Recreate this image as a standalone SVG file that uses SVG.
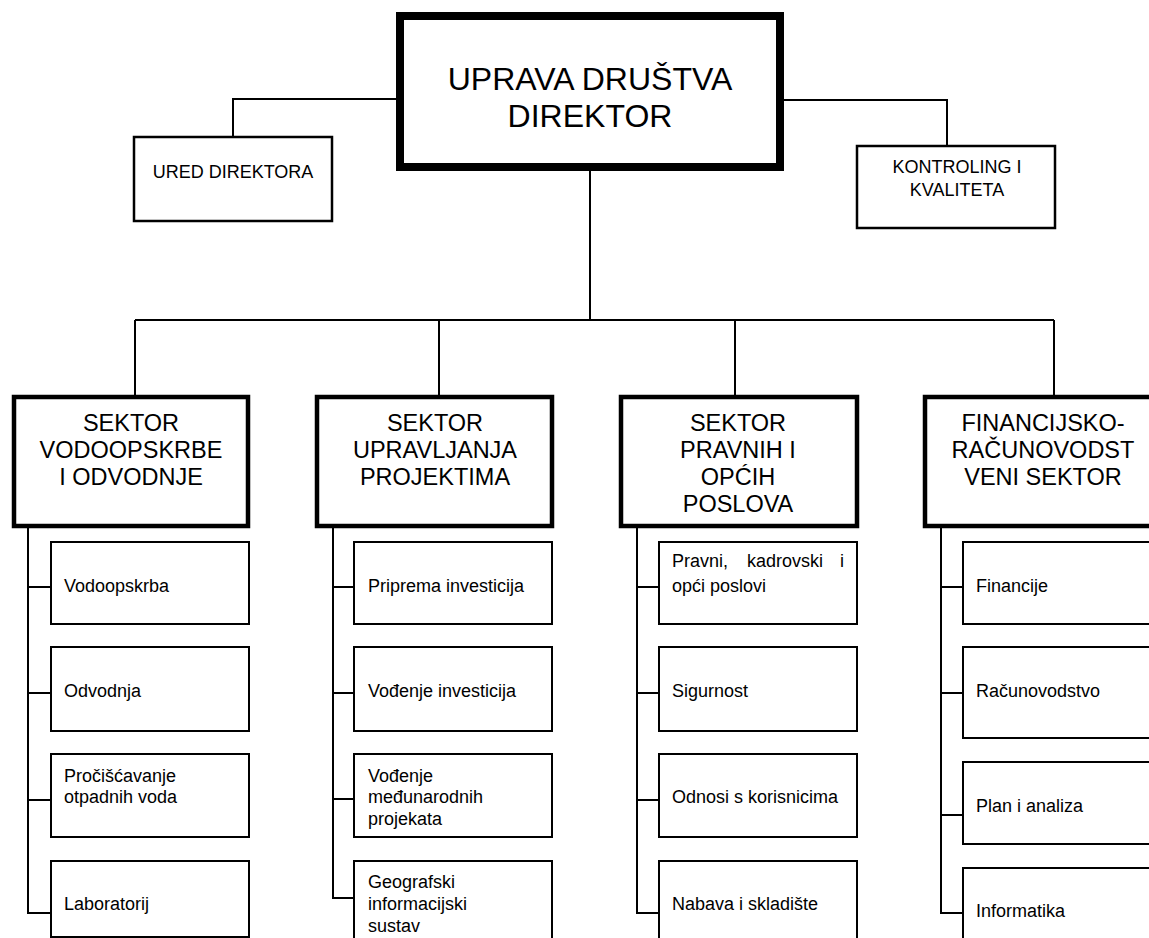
<svg xmlns="http://www.w3.org/2000/svg" width="1149" height="938" viewBox="0 0 1149 938">
<style>
text{font-family:"Liberation Sans",Arial,sans-serif;fill:#000}
.top{fill:#fff;stroke:#000;stroke-width:8}
.mid{fill:#fff;stroke:#000;stroke-width:2.5}
.sec{fill:#fff;stroke:#000;stroke-width:4.5}
.sub{fill:#fff;stroke:#000;stroke-width:2}
.c{stroke:#000;stroke-width:2;fill:none}
.t32{font-size:32px;text-anchor:middle}
.t23{font-size:23.5px;text-anchor:middle}
.t18m{font-size:18px;text-anchor:middle}
.t18{font-size:18px}
</style>
<rect width="1149" height="938" fill="#fff"/>
<g id="connectors">
<polyline class="c" points="400,99 233,99 233,137"/>
<polyline class="c" points="780,100 947,100 947,146"/>
<line class="c" x1="590" y1="171" x2="590" y2="320"/>
<line class="c" x1="135" y1="320" x2="1054" y2="320"/>
<line class="c" x1="135" y1="320" x2="135" y2="397"/>
<line class="c" x1="439" y1="320" x2="439" y2="397"/>
<line class="c" x1="735" y1="320" x2="735" y2="397"/>
<line class="c" x1="1054" y1="320" x2="1054" y2="397"/>
<polyline class="c" points="28,528 28,913 51,913"/>
<line class="c" x1="28" y1="587" x2="51" y2="587"/>
<line class="c" x1="28" y1="693" x2="51" y2="693"/>
<line class="c" x1="28" y1="800" x2="51" y2="800"/>
<polyline class="c" points="333,528 333,898 354,898"/>
<line class="c" x1="333" y1="587" x2="354" y2="587"/>
<line class="c" x1="333" y1="693" x2="354" y2="693"/>
<line class="c" x1="333" y1="799" x2="354" y2="799"/>
<polyline class="c" points="637,528 637,913 659,913"/>
<line class="c" x1="637" y1="587" x2="659" y2="587"/>
<line class="c" x1="637" y1="693" x2="659" y2="693"/>
<line class="c" x1="637" y1="800" x2="659" y2="800"/>
<polyline class="c" points="941,528 941,913 963,913"/>
<line class="c" x1="941" y1="587" x2="963" y2="587"/>
<line class="c" x1="941" y1="693" x2="963" y2="693"/>
<line class="c" x1="941" y1="815" x2="963" y2="815"/>
</g>
<g id="uprava">
<rect class="top" x="400" y="16" width="380" height="151"/>
<text class="t32" x="590" y="90">UPRAVA DRUŠTVA</text>
<text class="t32" x="590" y="127">DIREKTOR</text>
</g>
<g id="ured">
<rect class="mid" x="134" y="137" width="198" height="84"/>
<text class="t18m" x="233" y="178">URED DIREKTORA</text>
</g>
<g id="kontroling">
<rect class="mid" x="857" y="146" width="198" height="82"/>
<text class="t18m" x="957" y="173">KONTROLING I</text>
<text class="t18m" x="957" y="196">KVALITETA</text>
</g>
<g id="sektor-vodoopskrbe">
<rect class="sec" x="14" y="397" width="234" height="129"/>
<text class="t23" x="131" y="431">SEKTOR</text>
<text class="t23" x="131" y="458">VODOOPSKRBE</text>
<text class="t23" x="131" y="485">I ODVODNJE</text>
</g>
<g id="sektor-projekti">
<rect class="sec" x="317" y="397" width="235" height="129"/>
<text class="t23" x="435" y="431">SEKTOR</text>
<text class="t23" x="435" y="458">UPRAVLJANJA</text>
<text class="t23" x="435" y="485">PROJEKTIMA</text>
</g>
<g id="sektor-pravni">
<rect class="sec" x="621" y="397" width="236" height="129"/>
<text class="t23" x="738" y="431">SEKTOR</text>
<text class="t23" x="738" y="458">PRAVNIH I</text>
<text class="t23" x="738" y="485">OPĆIH</text>
<text class="t23" x="738" y="512">POSLOVA</text>
</g>
<g id="sektor-financije">
<rect class="sec" x="925" y="397" width="236" height="129"/>
<text class="t23" x="1043" y="431">FINANCIJSKO-</text>
<text class="t23" x="1043" y="458">RAČUNOVODST</text>
<text class="t23" x="1043" y="485">VENI SEKTOR</text>
</g>
<g id="vodoopskrba"><rect class="sub" x="51" y="542" width="198" height="82"/><text class="t18" x="64" y="592">Vodoopskrba</text></g>
<g id="odvodnja"><rect class="sub" x="51" y="647" width="198" height="84"/><text class="t18" x="64" y="697">Odvodnja</text></g>
<g id="prociscavanje"><rect class="sub" x="51" y="754" width="198" height="83"/><text class="t18" x="64" y="782">Pročišćavanje</text><text class="t18" x="64" y="803">otpadnih voda</text></g>
<g id="laboratorij"><rect class="sub" x="51" y="861" width="198" height="76"/><text class="t18" x="64" y="910">Laboratorij</text></g>
<g id="priprema"><rect class="sub" x="354" y="542" width="198" height="82"/><text class="t18" x="368" y="592">Priprema investicija</text></g>
<g id="vodjenje"><rect class="sub" x="354" y="647" width="198" height="84"/><text class="t18" x="368" y="697">Vođenje investicija</text></g>
<g id="medjunarodni"><rect class="sub" x="354" y="754" width="198" height="83"/><text class="t18" x="368" y="782">Vođenje</text><text class="t18" x="368" y="803">međunarodnih</text><text class="t18" x="368" y="825">projekata</text></g>
<g id="gis"><rect class="sub" x="354" y="861" width="198" height="90"/><text class="t18" x="368" y="888">Geografski</text><text class="t18" x="368" y="910">informacijski</text><text class="t18" x="368" y="932">sustav</text></g>
<g id="pravni"><rect class="sub" x="659" y="542" width="198" height="82"/><text class="t18" y="567"><tspan x="672">Pravni,</tspan><tspan x="747">kadrovski</tspan><tspan x="840">i</tspan></text><text class="t18" x="672" y="592">opći poslovi</text></g>
<g id="sigurnost"><rect class="sub" x="659" y="647" width="198" height="84"/><text class="t18" x="672" y="697">Sigurnost</text></g>
<g id="odnosi"><rect class="sub" x="659" y="754" width="198" height="83"/><text class="t18" x="672" y="803">Odnosi s korisnicima</text></g>
<g id="nabava"><rect class="sub" x="659" y="861" width="198" height="90"/><text class="t18" x="672" y="910">Nabava i skladište</text></g>
<g id="financije"><rect class="sub" x="963" y="542" width="198" height="82"/><text class="t18" x="976" y="592">Financije</text></g>
<g id="racunovodstvo"><rect class="sub" x="963" y="647" width="198" height="91"/><text class="t18" x="976" y="697">Računovodstvo</text></g>
<g id="plan"><rect class="sub" x="963" y="762" width="198" height="82"/><text class="t18" x="976" y="812">Plan i analiza</text></g>
<g id="informatika"><rect class="sub" x="963" y="868" width="198" height="83"/><text class="t18" x="976" y="917">Informatika</text></g>
</svg>
